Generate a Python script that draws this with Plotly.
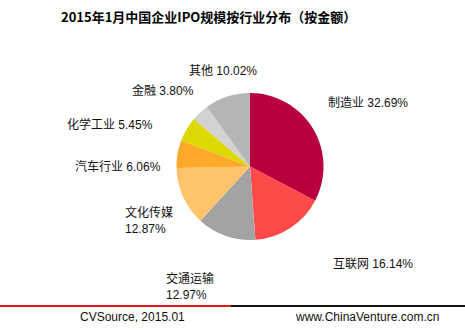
import plotly.graph_objects as go

categories = ["制造业", "互联网", "交通运输", "文化传媒", "汽车行业", "化学工业", "金融", "其他"]
values = [32.69, 16.14, 12.97, 12.87, 6.06, 5.45, 3.80, 10.02]
colors = ["#B8003C", "#FF4A4A", "#A3A3A3", "#FFC46B", "#FFA92A", "#DDD800", "#D2D2D2", "#B5B5B5"]
title_text = "2015年1月中国企业IPO规模按行业分布（按金额）"
source_text = "CVSource, 2015.01"
site_text = "www.ChinaVenture.com.cn"

W, H = 465, 332
cx, cy, r = 250, 166.5, 73.5

fig = go.Figure(go.Pie(
    labels=categories, values=values,
    marker=dict(colors=colors, line=dict(width=0)),
    sort=False, direction="clockwise", rotation=0,
    textinfo="none", hoverinfo="label+percent", showlegend=False,
    domain=dict(x=[(cx - r) / W, (cx + r) / W], y=[1 - (cy + r) / H, 1 - (cy - r) / H]),
))

FONT = "Liberation Sans, Arial, Noto Sans CJK SC, sans-serif"

# label placement (pixel positions, anchor) per category, in the same order as categories
label_pos = [
    (368, 103, "center", False),
    (373, 264, "center", False),
    (190, 286, "center", True),
    (123, 221, "left", True),
    (118, 166, "center", False),
    (110, 124, "center", False),
    (163, 90, "center", False),
    (223, 71, "center", False),
]

annotations = []
for cat, val, (px, py, anchor, two) in zip(categories, values, label_pos):
    txt = f"{cat}<br>{val:.2f}%" if two else f"{cat} {val:.2f}%"
    annotations.append(dict(
        x=px / W, y=1 - py / H, xref="paper", yref="paper",
        text=txt, showarrow=False, xanchor=anchor, yanchor="middle", align="left",
        font=dict(family=FONT, size=12, color="#111111"),
    ))

annotations.append(dict(
    x=208 / W, y=1 - 16 / H, xref="paper", yref="paper", text=f"<b>{title_text}</b>",
    showarrow=False, xanchor="center", yanchor="middle",
    font=dict(family="Noto Sans CJK SC, sans-serif", size=13, color="#000000"),
))
annotations.append(dict(
    x=132 / W, y=1 - 317 / H, xref="paper", yref="paper", text=source_text,
    showarrow=False, xanchor="center", yanchor="middle",
    font=dict(family=FONT, size=12, color="#111111"),
))
annotations.append(dict(
    x=367 / W, y=1 - 317 / H, xref="paper", yref="paper", text=site_text,
    showarrow=False, xanchor="center", yanchor="middle",
    font=dict(family=FONT, size=12, color="#111111"),
))

shapes = [
    dict(type="line", xref="paper", yref="paper", x0=0, x1=231 / W, y0=1 - 306 / H, y1=1 - 306 / H,
         line=dict(color="#E8141B", width=2)),
    dict(type="line", xref="paper", yref="paper", x0=231 / W, x1=1, y0=1 - 306 / H, y1=1 - 306 / H,
         line=dict(color="#111111", width=2)),
]

fig.update_layout(
    width=W, height=H, margin=dict(l=0, r=0, t=0, b=0),
    paper_bgcolor="white", plot_bgcolor="white",
    annotations=annotations, shapes=shapes,
)

fig.write_html("out.html")
